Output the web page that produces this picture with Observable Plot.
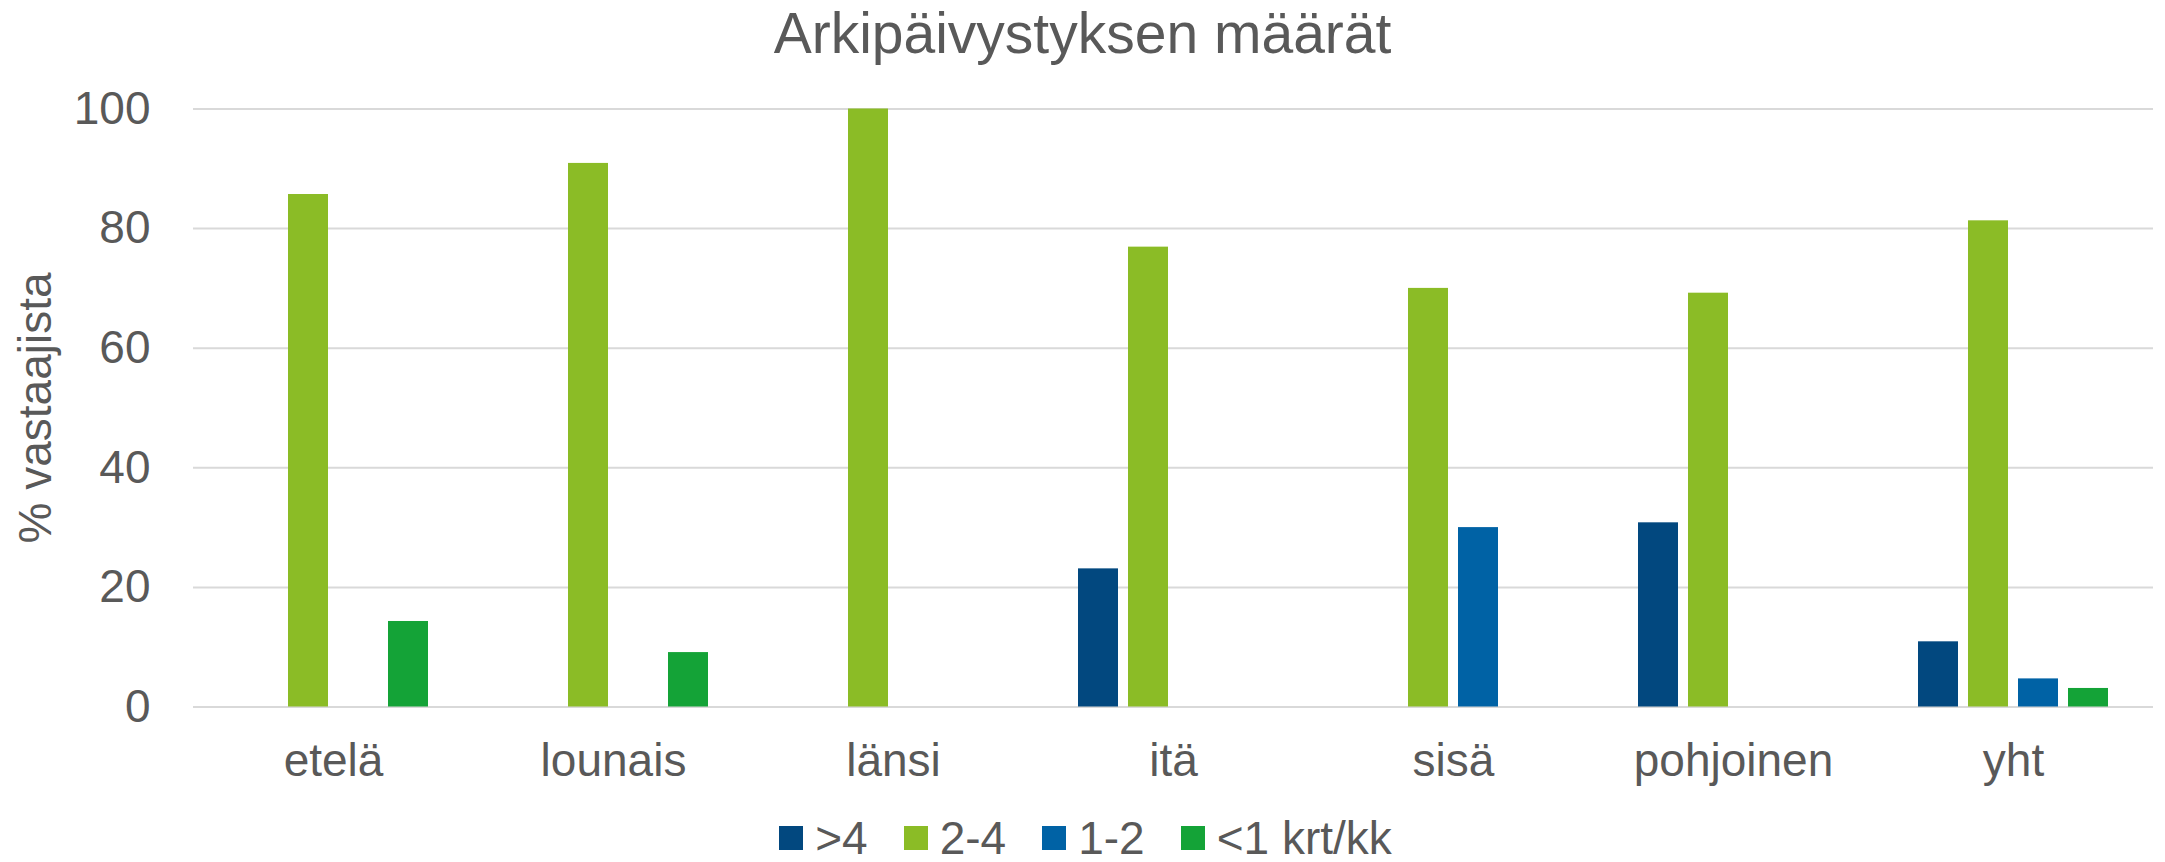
<!DOCTYPE html>
<html>
<head>
<meta charset="utf-8">
<script src="https://cdn.jsdelivr.net/npm/d3@7"></script>
<script src="https://cdn.jsdelivr.net/npm/@observablehq/plot@0.6"></script>
<style>
  html, body { margin: 0; padding: 0; background: #ffffff; }
  body { width: 2165px; height: 862px; overflow: hidden; font-family: "Liberation Sans", Arial, sans-serif; color: #595959; }
  #title { height: 80px; line-height: 66px; font-size: 57px; text-align: center; white-space: nowrap; }
  #chart svg { display: block; }
  #legend { height: 52px; box-sizing: border-box; padding-top: 4px; padding-left: 6px; display: flex; justify-content: center; font-size: 46px; line-height: 52px; white-space: nowrap; }
  .item { display: inline-flex; align-items: center; margin: 0 18px; }
  .sw { width: 24px; height: 24px; margin-right: 12px; display: inline-block; }
</style>
</head>
<body>
<div id="title">Arkipäivystyksen määrät</div>
<div id="chart"></div>
<div id="legend"></div>
<script>
// Data
const categories = ["etelä", "lounais", "länsi", "itä", "sisä", "pohjoinen", "yht"];
const seriesNames = [">4", "2-4", "1-2", "<1 krt/kk"];
const seriesColors = ["#02487F", "#8BBC26", "#0062A5", "#14A337"];
const over4    = [0, 0, 0, 23.1, 0, 30.8, 10.9];
const from2to4 = [85.7, 90.9, 100, 76.9, 70.0, 69.2, 81.3];
const from1to2 = [0, 0, 0, 0, 30.0, 0, 4.7];
const under1   = [14.3, 9.1, 0, 0, 0, 0, 3.1];
const yTicks = [0, 20, 40, 60, 80, 100];
const yLabel = "% vastaajista";

const seriesValues = [over4, from2to4, from1to2, under1];
const rows = [];
categories.forEach((c, i) => {
  seriesNames.forEach((s, j) => {
    const v = seriesValues[j][i];
    if (v > 0) rows.push({region: c, series: s, value: v});
  });
});

const textColor = "#595959";
const chart = Plot.plot({
  width: 2165,
  height: 730,
  marginTop: 28.5,
  marginBottom: 103.5,
  marginLeft: 193,
  marginRight: 12,
  style: {fontFamily: '"Liberation Sans", Arial, sans-serif', fontSize: "46px", color: textColor, background: "#ffffff"},
  fx: {domain: categories, padding: 0},
  x: {domain: seriesNames, paddingInner: 0.21, paddingOuter: 0.869, axis: null},
  y: {domain: [0, 100]},
  color: {domain: seriesNames, range: seriesColors},
  marks: [
    Plot.gridY(yTicks, {stroke: "#d9d9d9", strokeOpacity: 1, strokeWidth: 2}),
    Plot.barY(rows, {fx: "region", x: "series", y: "value", fill: "series"}),
    Plot.axisY({ticks: yTicks, tickSize: 0, tickPadding: 43, fontSize: 46, fill: textColor,
      label: yLabel, labelAnchor: "center", labelOffset: 175, labelArrow: "none"}),
    Plot.axisFx({anchor: "bottom", tickSize: 0, tickPadding: 36, fontSize: 46, fill: textColor, label: null})
  ]
});
document.getElementById("chart").appendChild(chart);

const legend = document.getElementById("legend");
seriesNames.forEach((s, j) => {
  const item = document.createElement("span");
  item.className = "item";
  const sw = document.createElement("span");
  sw.className = "sw";
  sw.style.background = seriesColors[j];
  const t = document.createElement("span");
  t.textContent = s;
  item.appendChild(sw);
  item.appendChild(t);
  legend.appendChild(item);
});
</script>
</body>
</html>
